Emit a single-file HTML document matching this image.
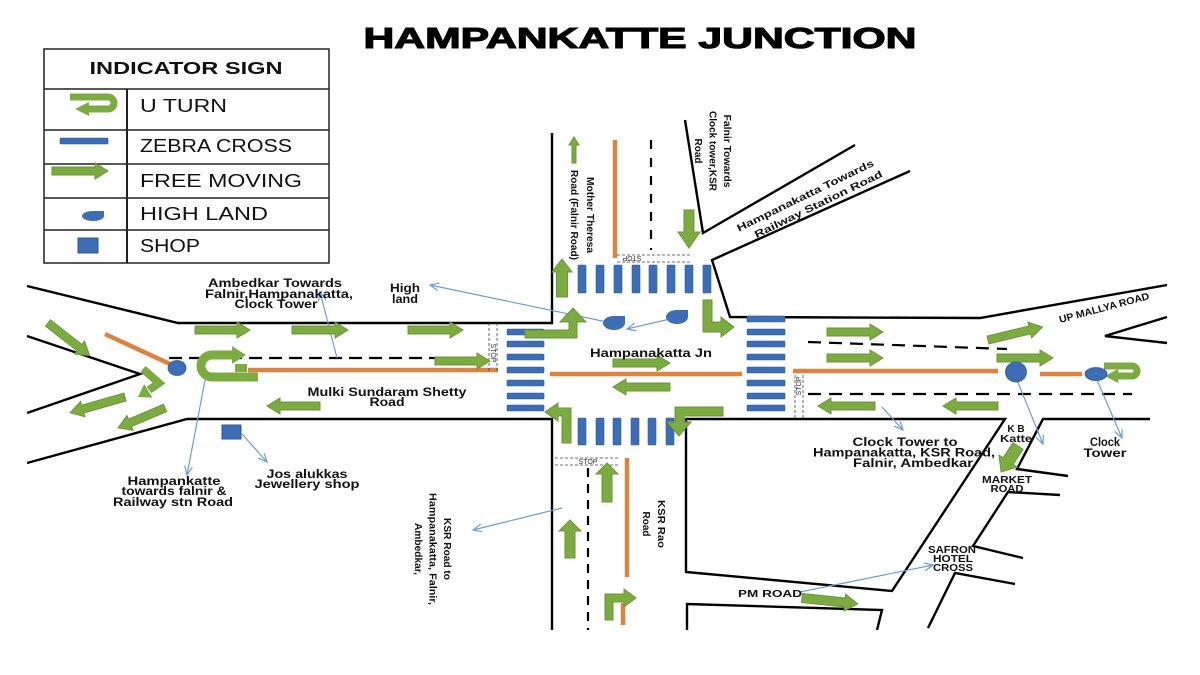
<!DOCTYPE html>
<html><head><meta charset="utf-8"><style>
html,body{margin:0;padding:0;background:#fff;}
svg{display:block;}
text{font-family:"Liberation Sans",Arial,sans-serif;}
.lb{font-weight:bold;font-size:12px;fill:#111;}
.sm{font-weight:bold;font-size:10px;fill:#111;}
.rt{font-weight:bold;font-size:10px;fill:#111;}
.lg{font-size:18px;fill:#111;}
.ga{fill:#7cab42;stroke:#6a9636;stroke-width:1;}
.gs{fill:none;stroke:#7cab42;stroke-linejoin:miter;}
.zb{fill:#3d6db4;stroke:#2d5a98;stroke-width:0.6;}
.rd{fill:none;stroke:#000;stroke-width:2.4;stroke-linejoin:miter;}
.ds{fill:none;stroke:#000;stroke-width:2.2;}
.or{stroke:#dd8240;stroke-width:4.5;fill:none;}
.ld{stroke:#6a9fd4;stroke-width:1.2;fill:none;marker-end:url(#ah);}
.st{stroke:#444;stroke-width:0.8;stroke-dasharray:3,2;fill:none;}
</style></head><body>
<svg width="1200" height="675" viewBox="0 0 1200 675" xmlns="http://www.w3.org/2000/svg">
<defs>
<marker id="ah" markerUnits="userSpaceOnUse" markerWidth="12" markerHeight="12" refX="9" refY="4" orient="auto">
<path d="M0,0 L9,4 L0,8" fill="none" stroke="#6a9fd4" stroke-width="1.2"/>
</marker>
</defs>

<!-- Title -->
<text x="640" y="48" text-anchor="middle" font-size="29" font-weight="bold" stroke="#000" stroke-width="1.1" textLength="553" lengthAdjust="spacingAndGlyphs">HAMPANKATTE JUNCTION</text>

<!-- Legend -->
<rect x="44" y="49" width="285" height="214" fill="#fff" stroke="#222" stroke-width="1.5"/>
<line x1="44" y1="89" x2="329" y2="89" stroke="#222" stroke-width="1.5"/>
<line x1="44" y1="130" x2="329" y2="130" stroke="#222" stroke-width="1.5"/>
<line x1="44" y1="164" x2="329" y2="164" stroke="#222" stroke-width="1.5"/>
<line x1="44" y1="198" x2="329" y2="198" stroke="#222" stroke-width="1.5"/>
<line x1="44" y1="230" x2="329" y2="230" stroke="#222" stroke-width="1.5"/>
<line x1="127" y1="89" x2="127" y2="263" stroke="#222" stroke-width="2"/>
<text x="186" y="74" text-anchor="middle" font-size="17.5" font-weight="bold" fill="#111" textLength="193" lengthAdjust="spacingAndGlyphs">INDICATOR SIGN</text>
<text class="lg" x="140" y="112" textLength="87" lengthAdjust="spacingAndGlyphs">U TURN</text>
<text class="lg" x="140" y="152" textLength="152" lengthAdjust="spacingAndGlyphs">ZEBRA CROSS</text>
<text class="lg" x="140" y="187" textLength="162" lengthAdjust="spacingAndGlyphs">FREE MOVING</text>
<text class="lg" x="140" y="220" textLength="128" lengthAdjust="spacingAndGlyphs">HIGH LAND</text>
<text class="lg" x="140" y="252" textLength="60" lengthAdjust="spacingAndGlyphs">SHOP</text>
<path class="gs" d="M70,97 L108,97 A6,6 0 0 1 108,109 L88,109" stroke-width="7"/>
<polygon points="89,102 89,116 75,109" fill="#7cab42"/>
<rect x="60" y="138" width="48" height="6" rx="1" class="zb"/>
<polygon class="ga" points="52,167 95,167 95,163 108,171 95,179 95,175 52,175"/>
<path d="M104,211 L104,216 A11,5 0 1 1 93,211 Z" fill="#3d6db4"/>
<rect x="78" y="238" width="20" height="15" fill="#3d6db4" stroke="#2d5a98" stroke-width="1"/>

<!-- Roads -->
<path class="rd" d="M27,286 L178,323 L552,323 L552,133"/>
<path class="rd" d="M27,336 L140,374 L27,413"/>
<path class="rd" d="M27,463 L187,419 L552,419 L552,630"/>
<path class="rd" d="M685,120 L703,233 L855,145"/>
<path class="rd" d="M910,171 L712,260 L730,317 L980,318 L1167,285"/>
<path class="rd" d="M1167,317 L1105,336 L1167,343"/>
<path class="rd" d="M1005,419 L686,419 L686,572 L892,591 Z"/>
<path class="rd" d="M1150,419 L1043,419 L1017,469 L1068,476"/>
<path class="rd" d="M1060,495 L1008,492 L973,546 L1023,558"/>
<path class="rd" d="M1015,584 L955,573 L928,628"/>
<path class="rd" d="M687,630 L687,604 L882,610 L877,630"/>

<!-- Dashed lane lines -->
<path class="ds" d="M169,358 L488,358" stroke-dasharray="13,7"/>
<path class="ds" d="M651,140 L651,250" stroke-dasharray="9,9"/>
<path class="ds" d="M808,342 L1007,349" stroke-dasharray="13,8"/>
<path class="ds" d="M808,394 L1132,394" stroke-dasharray="13,8"/>
<path class="ds" d="M588,468 L588,630" stroke-dasharray="9,7"/>

<!-- Orange medians -->
<line class="or" x1="105" y1="334" x2="170" y2="364"/>
<line class="or" x1="248" y1="370" x2="498" y2="370"/>
<line class="or" x1="550" y1="374" x2="742" y2="374"/>
<line class="or" x1="793" y1="371" x2="998" y2="371"/>
<line class="or" x1="1040" y1="374" x2="1082" y2="374"/>
<line class="or" x1="615" y1="140" x2="615" y2="258"/>
<line class="or" x1="627" y1="458" x2="627" y2="577"/>
<line class="or" x1="623" y1="603" x2="623" y2="625"/>

<!-- Stop markings -->
<line class="st" x1="489" y1="323" x2="489" y2="371"/>
<line class="st" x1="497" y1="323" x2="497" y2="371"/>
<text transform="translate(491,353) rotate(90)" text-anchor="middle" font-size="7" fill="#333">STOP</text>
<line class="st" x1="617" y1="255" x2="690" y2="255"/>
<line class="st" x1="617" y1="262" x2="690" y2="262"/>
<text transform="translate(632,256) rotate(180)" text-anchor="middle" font-size="7" fill="#333">STOP</text>
<line class="st" x1="795" y1="375" x2="795" y2="419"/>
<line class="st" x1="803" y1="375" x2="803" y2="419"/>
<text transform="translate(801,386) rotate(-90)" text-anchor="middle" font-size="7" fill="#333">STOP</text>
<line class="st" x1="555" y1="458" x2="620" y2="458"/>
<line class="st" x1="555" y1="465" x2="620" y2="465"/>
<text x="588" y="464" text-anchor="middle" font-size="7" fill="#333">STOP</text>

<!-- Zebra crossings -->
<g>
<rect class="zb" x="578" y="265" width="8" height="28" rx="1"/>
<rect class="zb" x="596" y="265" width="8" height="28" rx="1"/>
<rect class="zb" x="614" y="265" width="8" height="28" rx="1"/>
<rect class="zb" x="632" y="265" width="8" height="28" rx="1"/>
<rect class="zb" x="649" y="265" width="8" height="28" rx="1"/>
<rect class="zb" x="667" y="265" width="8" height="28" rx="1"/>
<rect class="zb" x="685" y="265" width="8" height="28" rx="1"/>
<rect class="zb" x="703" y="265" width="8" height="28" rx="1"/>

<rect class="zb" x="578" y="418" width="8" height="27" rx="1"/>
<rect class="zb" x="596" y="418" width="8" height="27" rx="1"/>
<rect class="zb" x="613" y="418" width="8" height="27" rx="1"/>
<rect class="zb" x="631" y="418" width="8" height="27" rx="1"/>
<rect class="zb" x="648" y="418" width="8" height="27" rx="1"/>
<rect class="zb" x="666" y="418" width="8" height="27" rx="1"/>

<rect class="zb" x="507" y="329" width="37" height="6" rx="1"/>
<rect class="zb" x="507" y="341" width="37" height="6" rx="1"/>
<rect class="zb" x="507" y="354" width="37" height="6" rx="1"/>
<rect class="zb" x="507" y="367" width="37" height="6" rx="1"/>
<rect class="zb" x="507" y="380" width="37" height="6" rx="1"/>
<rect class="zb" x="507" y="393" width="37" height="6" rx="1"/>
<rect class="zb" x="507" y="405" width="37" height="6" rx="1"/>

<rect class="zb" x="747" y="316" width="38" height="6" rx="1"/>
<rect class="zb" x="747" y="329" width="38" height="6" rx="1"/>
<rect class="zb" x="747" y="341" width="38" height="6" rx="1"/>
<rect class="zb" x="747" y="354" width="38" height="6" rx="1"/>
<rect class="zb" x="747" y="367" width="38" height="6" rx="1"/>
<rect class="zb" x="747" y="380" width="38" height="6" rx="1"/>
<rect class="zb" x="747" y="393" width="38" height="6" rx="1"/>
<rect class="zb" x="747" y="405" width="38" height="6" rx="1"/>
</g>

<!-- Leader lines -->
<path class="ld" d="M337,358 L320,292"/>
<path class="ld" d="M607,322 L430,285"/>
<path class="ld" d="M670,319 L627,329"/>
<path class="ld" d="M206,375 L187,475"/>
<path class="ld" d="M242,434 L267,462"/>
<path class="ld" d="M562,508 L473,530"/>
<path class="ld" d="M882,407 L903,430"/>
<path class="ld" d="M1017,380 L1043,444"/>
<path class="ld" d="M1097,380 L1122,438"/>
<path class="ld" d="M800,592 L933,565"/>

<!-- Green straight arrows -->
<polygon class="ga" points="195,326 237,326 237,322 250,330 237,338 237,334 195,334"/>
<polygon class="ga" points="292,326 335,326 335,322 348,330 335,338 335,334 292,334"/>
<polygon class="ga" points="408,326 450,326 450,322 463,330 450,338 450,334 408,334"/>
<polygon class="ga" points="435,357 477,357 477,353 490,361 477,369 477,365 435,365"/>
<polygon class="ga" points="613,359 657,359 657,355 670,363 657,371 657,367 613,367"/>
<polygon class="ga" points="827,328 870,328 870,324 883,332 870,340 870,336 827,336"/>
<polygon class="ga" points="827,354 870,354 870,350 883,358 870,366 870,362 827,362"/>
<polygon class="ga" points="997,354 1040,354 1040,350 1053,358 1040,366 1040,362 997,362"/>
<polygon class="ga" points="320,402 280,402 280,398 267,406 280,414 280,410 320,410"/>
<polygon class="ga" points="670,383 626,383 626,379 613,387 626,395 626,391 670,391"/>
<polygon class="ga" points="875,402 831,402 831,398 818,406 831,414 831,410 875,410"/>
<polygon class="ga" points="998,402 956,402 956,398 943,406 956,414 956,410 998,410"/>

<polygon class="ga" transform="translate(48,323) rotate(38)" points="0,-4 40,-4 40,-8 53,0 40,8 40,4 0,4"/>
<polygon class="ga" transform="translate(125,397) rotate(164)" points="0,-4 44,-4 44,-8 57,0 44,8 44,4 0,4"/>
<polygon class="ga" transform="translate(165,408) rotate(157)" points="0,-4 38,-4 38,-8 51,0 38,8 38,4 0,4"/>
<polygon class="ga" transform="translate(988,340) rotate(-13.5)" points="0,-4 43,-4 43,-8 56,0 43,8 43,4 0,4"/>
<polygon class="ga" transform="translate(802,598) rotate(6)" points="0,-4.5 43,-4.5 43,-8.5 56,0 43,8.5 43,4.5 0,4.5"/>
<polygon class="ga" transform="translate(1018,446) rotate(123)" points="0,-6 18,-6 18,-11 31,0 18,11 18,6 0,6"/>

<polygon class="ga" points="572,163 572,145 569,145 574,137 579,145 576,145 576,163"/>
<polygon class="ga" points="556.5,297 556.5,272 552,272 562,259 572,272 567.5,272 567.5,297"/>
<polygon class="ga" points="684,210 694,210 694,232 700,232 689,248 678,232 684,232"/>
<polygon class="ga" points="602,502 602,474 596,474 607,463 618,474 612,474 612,502"/>
<polygon class="ga" points="565,558 565,531 559,531 570,520 581,531 575,531 575,558"/>

<!-- Turn arrows -->
<polygon class="ga" points="525,330 569,330 569,322 560,322 573,308 586,322 577,322 577,338 525,338"/>
<polygon class="ga" points="703,300 712,300 712,322 721,322 721,317 734,327 721,337 721,332 703,332"/>
<polygon class="ga" points="571,443 562,443 562,416 558,416 558,421 545,412 558,403 558,408 571,408"/>
<polygon class="ga" points="723,407 723,416 684,416 684,422 691,422 679,436 667,422 675,422 675,407"/>
<polygon class="ga" points="605,620 605,594 624,594 624,589 636,598 624,607 624,602 613,602 613,620"/>

<path class="gs" d="M143,369 L159,383 L149,390" stroke-width="8"/>
<polygon points="152.4,397.8 138,397 144.2,384" fill="#7cab42"/>

<path class="gs" d="M258,377 L212,377 A11,11 0 0 1 212,355 L233,355" stroke-width="9"/>
<polygon points="232,346 246,355 232,364" fill="#7cab42"/>
<rect x="235" y="364" width="12" height="8" fill="#7cab42"/>

<path class="gs" d="M1104,366 L1132,366 A5,5 0 0 1 1132,376 L1118,376" stroke-width="7"/>
<polygon points="1118,369 1118,383 1105,376" fill="#7cab42"/>

<!-- Blue markers -->
<ellipse cx="177" cy="368" rx="9" ry="7.5" fill="#3d6db4" stroke="#2d5a98" stroke-width="0.8"/>
<ellipse cx="1016" cy="372" rx="10.5" ry="10" fill="#3d6db4" stroke="#2d5a98" stroke-width="0.8"/>
<ellipse cx="1096" cy="374" rx="11" ry="6.5" fill="#3d6db4" stroke="#2d5a98" stroke-width="0.8"/>
<path d="M625,316 L625,323 A11,7 0 1 1 614,316 Z" fill="#3d6db4"/>
<path d="M688,310 L688,317 A11,7 0 1 1 677,310 Z" fill="#3d6db4"/>
<rect x="222" y="425" width="19" height="14" fill="#3d6db4" stroke="#2d5a98" stroke-width="1"/>

<!-- Labels -->
<text class="lb" x="275" y="287" text-anchor="middle" textLength="134" lengthAdjust="spacingAndGlyphs">Ambedkar Towards</text>
<text class="lb" x="279" y="298" text-anchor="middle" textLength="148" lengthAdjust="spacingAndGlyphs">Falnir,Hampanakatta,</text>
<text class="lb" x="276" y="308" text-anchor="middle" textLength="83" lengthAdjust="spacingAndGlyphs">Clock Tower</text>
<text class="lb" x="405" y="292" text-anchor="middle" textLength="30" lengthAdjust="spacingAndGlyphs">High</text>
<text class="lb" x="405" y="303" text-anchor="middle" textLength="26" lengthAdjust="spacingAndGlyphs">land</text>
<text class="lb" x="387" y="396" text-anchor="middle" textLength="159" lengthAdjust="spacingAndGlyphs">Mulki Sundaram Shetty</text>
<text class="lb" x="387" y="406" text-anchor="middle" textLength="35" lengthAdjust="spacingAndGlyphs">Road</text>
<text class="lb" x="174" y="485" text-anchor="middle" textLength="93" lengthAdjust="spacingAndGlyphs">Hampankatte</text>
<text class="lb" x="174" y="495" text-anchor="middle" textLength="105" lengthAdjust="spacingAndGlyphs">towards falnir &amp;</text>
<text class="lb" x="173" y="506" text-anchor="middle" textLength="120" lengthAdjust="spacingAndGlyphs">Railway stn Road</text>
<text class="lb" x="307" y="478" text-anchor="middle" textLength="81" lengthAdjust="spacingAndGlyphs">Jos alukkas</text>
<text class="lb" x="307" y="488" text-anchor="middle" textLength="105" lengthAdjust="spacingAndGlyphs">Jewellery shop</text>
<text class="lb" x="651" y="357" text-anchor="middle" textLength="122" lengthAdjust="spacingAndGlyphs">Hampanakatta Jn</text>
<text class="lb" x="905" y="446" text-anchor="middle" textLength="105" lengthAdjust="spacingAndGlyphs">Clock Tower to</text>
<text class="lb" x="904" y="456.5" text-anchor="middle" textLength="182" lengthAdjust="spacingAndGlyphs">Hampanakatta, KSR Road,</text>
<text class="lb" x="913" y="467" text-anchor="middle" textLength="120" lengthAdjust="spacingAndGlyphs">Falnir, Ambedkar</text>
<text class="sm" x="1016" y="432" text-anchor="middle">K B</text>
<text class="sm" x="1016" y="442" text-anchor="middle" textLength="32" lengthAdjust="spacingAndGlyphs">Katte</text>
<text class="lb" x="1105" y="446" text-anchor="middle" textLength="30" lengthAdjust="spacingAndGlyphs">Clock</text>
<text class="lb" x="1105" y="457" text-anchor="middle" textLength="43" lengthAdjust="spacingAndGlyphs">Tower</text>
<text class="sm" x="1007" y="483" text-anchor="middle" textLength="50" lengthAdjust="spacingAndGlyphs">MARKET</text>
<text class="sm" x="1007" y="492" text-anchor="middle" textLength="33" lengthAdjust="spacingAndGlyphs">ROAD</text>
<text class="sm" x="952" y="553" text-anchor="middle" font-size="9" textLength="48" lengthAdjust="spacingAndGlyphs">SAFRON</text>
<text class="sm" x="953" y="562" text-anchor="middle" font-size="9" textLength="40" lengthAdjust="spacingAndGlyphs">HOTEL</text>
<text class="sm" x="953" y="571" text-anchor="middle" font-size="9" textLength="40" lengthAdjust="spacingAndGlyphs">CROSS</text>
<text class="sm" x="770" y="597" text-anchor="middle" textLength="64" lengthAdjust="spacingAndGlyphs">PM ROAD</text>
<text class="sm" transform="translate(1105,311) rotate(-15)" text-anchor="middle" font-size="8" textLength="93" lengthAdjust="spacingAndGlyphs">UP MALLYA ROAD</text>

<!-- Rotated labels -->
<g transform="translate(587,215) rotate(90)">
<text class="rt" x="0" y="0" text-anchor="middle" textLength="76" lengthAdjust="spacingAndGlyphs">Mother Theresa</text>
<text class="rt" x="0" y="16" text-anchor="middle" textLength="90" lengthAdjust="spacingAndGlyphs">Road (Falnir Road)</text>
</g>
<g transform="translate(724,151) rotate(90)">
<text class="rt" x="0" y="0" text-anchor="middle" textLength="73" lengthAdjust="spacingAndGlyphs">Falnir Towards</text>
<text class="rt" x="0" y="14.5" text-anchor="middle" textLength="80" lengthAdjust="spacingAndGlyphs">Clock tower,KSR</text>
<text class="rt" x="0" y="29" text-anchor="middle" textLength="25" lengthAdjust="spacingAndGlyphs">Road</text>
</g>
<g transform="translate(444,549) rotate(90)">
<text class="rt" x="0" y="0" text-anchor="middle" textLength="62" lengthAdjust="spacingAndGlyphs">KSR Road to</text>
<text class="rt" x="0" y="14.5" text-anchor="middle" textLength="112" lengthAdjust="spacingAndGlyphs">Hampanakatta, Falnir,</text>
<text class="rt" x="0" y="29" text-anchor="middle" textLength="52" lengthAdjust="spacingAndGlyphs">Ambedkar,</text>
</g>
<g transform="translate(658,524) rotate(90)">
<text class="rt" x="0" y="0" text-anchor="middle" textLength="48" lengthAdjust="spacingAndGlyphs">KSR  Rao</text>
<text class="rt" x="0" y="15" text-anchor="middle" textLength="25" lengthAdjust="spacingAndGlyphs">Road</text>
</g>
<g transform="translate(805,195) rotate(-26)">
<text class="rt" x="0" y="4" text-anchor="middle" font-size="10.5" textLength="151" lengthAdjust="spacingAndGlyphs">Hampanakatta Towards</text>
<text class="rt" x="8" y="17.5" text-anchor="middle" font-size="10.5" textLength="141" lengthAdjust="spacingAndGlyphs">Railway Station Road</text>
</g>
</svg>
</body></html>
